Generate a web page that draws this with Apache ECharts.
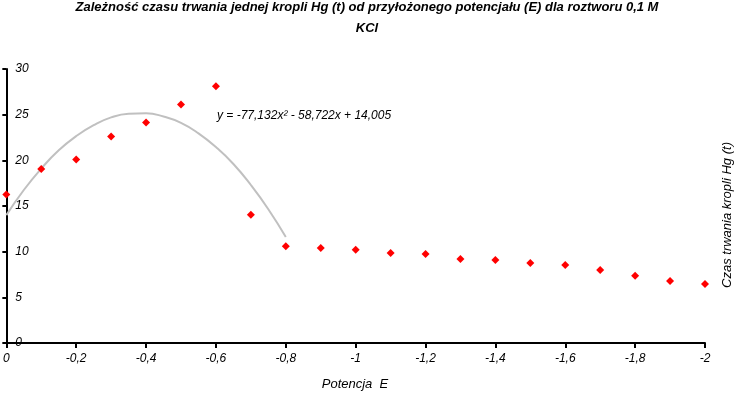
<!DOCTYPE html>
<html><head><meta charset="utf-8">
<script src="https://cdn.jsdelivr.net/npm/echarts@6/dist/echarts.min.js"></script>
<style>html,body{margin:0;padding:0;background:#fff}#c{width:736px;height:393px}</style>
</head><body><div id="c"></div>
<script>
// Measured data
const potentialE = [0, -0.1, -0.2, -0.3, -0.4, -0.5, -0.6, -0.7, -0.8, -0.9, -1.0, -1.1, -1.2, -1.3, -1.4, -1.5, -1.6, -1.7, -1.8, -1.9, -2.0];
const dropTime = [16.25, 19.05, 20.1, 22.6, 24.15, 26.1, 28.1, 14.05, 10.6, 10.4, 10.2, 9.85, 9.75, 9.2, 9.1, 8.75, 8.55, 8.0, 7.35, 6.8, 6.45];
// Trendline
const trendE = [0, -0.05, -0.1, -0.15, -0.2, -0.25, -0.3, -0.35, -0.4, -0.45, -0.5, -0.55, -0.6, -0.65, -0.7, -0.75, -0.8];
const trendT = [14.0, 16.75, 19.1, 21.1, 22.65, 23.85, 24.7, 25.1, 25.15, 24.8, 24.1, 22.95, 21.45, 19.6, 17.3, 14.65, 11.6];
const yTicks = [0, 5, 10, 15, 20, 25, 30];
const titleText = 'Zależność czasu trwania jednej kropli Hg (t) od przyłożonego potencjału (E) dla roztworu 0,1 M\nKCl';
const equationText = 'y = -77,132x² - 58,722x + 14,005';
const xName = 'Potencja  E';
const yName = 'Czas trwania kropli Hg (t)';

const chart = echarts.init(document.getElementById('c'), null, {renderer: 'canvas'});
const fmt = v => { const r = Math.round(v * 10) / 10; return (r === 0 ? '0' : String(r)).replace('.', ','); };
const font = 'Liberation Sans';
chart.setOption({
  animation: false,
  backgroundColor: '#fff',
  grid: {left: 4, right: 31, top: 69, bottom: 50, containLabel: false},
  xAxis: {
    type: 'value', min: -2, max: 0, interval: 0.2, inverse: true,
    axisLine: {show: true, onZero: false, lineStyle: {color: '#000', width: 2}},
    axisTick: {show: true, length: 5, lineStyle: {color: '#000', width: 2}},
    axisLabel: {formatter: fmt, fontFamily: font, fontStyle: 'italic', fontSize: 12, color: '#000', margin: 10},
    splitLine: {show: false}
  },
  yAxis: {
    type: 'value', min: yTicks[0], max: yTicks[yTicks.length - 1], interval: 5,
    axisLine: {show: true, onZero: false, lineStyle: {color: '#000', width: 2}},
    axisTick: {show: true, length: 4, lineStyle: {color: '#000', width: 2}},
    axisLabel: {inside: true, fontFamily: font, fontStyle: 'italic', fontSize: 12, color: '#000', margin: 9},
    splitLine: {show: false}
  },
  series: [
    {
      type: 'line', data: trendE.map((e, i) => [e, trendT[i]]), smooth: true, showSymbol: false,
      lineStyle: {color: '#c0c0c0', width: 2}, z: 2, silent: true
    },
    {
      type: 'scatter', data: potentialE.map((e, i) => [e, dropTime[i]]),
      symbol: 'diamond', symbolSize: 8, itemStyle: {color: '#ff0000', opacity: 1}, z: 3
    }
  ],
  graphic: [
    {type: 'text', x: 367, y: -3, style: {text: titleText, fontFamily: font, fontStyle: 'italic', fontWeight: 'bold', fontSize: 13, fill: '#000', align: 'center', lineHeight: 21}},
    {type: 'text', x: 217, y: 110, style: {text: equationText, fontFamily: font, fontStyle: 'italic', fontSize: 12, fill: '#000'}},
    {type: 'text', x: 355, y: 378, style: {text: xName, fontFamily: font, fontStyle: 'italic', fontSize: 13, fill: '#000', align: 'center'}},
    {type: 'text', x: 721, y: 215, rotation: Math.PI / 2, style: {text: yName, fontFamily: font, fontStyle: 'italic', fontSize: 13, fill: '#000', align: 'center'}}
  ]
});
</script></body></html>
